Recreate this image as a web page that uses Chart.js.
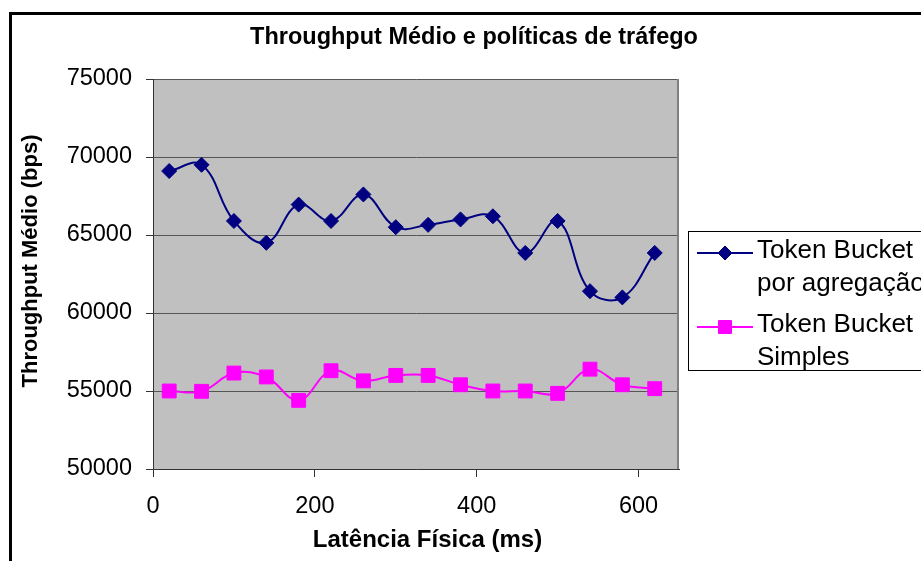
<!DOCTYPE html>
<html><head><meta charset="utf-8">
<script src="https://cdn.jsdelivr.net/npm/chart.js@4"></script>
<style>html,body{margin:0;padding:0;background:#fff;} canvas{display:block;}</style>
</head><body>
<canvas id="c" width="921" height="561"></canvas>
<script>
const chartTitle = 'Throughput Médio e políticas de tráfego';
const xAxisTitle = 'Latência Física (ms)';
const yAxisTitle = 'Throughput Médio (bps)';
const latencyMs = [20, 60, 100, 140, 180, 220, 260, 300, 340, 380, 420, 460, 500, 540, 580, 620];
const tokenBucketAgregacao = [69100, 69500, 65900, 64500, 66950, 65900, 67600, 65500, 65650, 66000, 66200, 63850, 65900, 61400, 61000, 63850];
const tokenBucketSimples = [55000, 54980, 56150, 55900, 54400, 56300, 55650, 56000, 56000, 55400, 55000, 55000, 54850, 56400, 55400, 55150];
const seriesNames = [['Token Bucket', 'por agregação'], ['Token Bucket', 'Simples']];
const seriesColors = ['#000080', '#FF00FF'];
const seriesMarkers = ['rectRot', 'rect'];
const xTickValues = [0, 200, 400, 600];
const yTickValues = [50000, 55000, 60000, 65000, 70000, 75000];

const FONT = '"Liberation Sans", Arial, sans-serif';

function toPoints(xs, ys) { return xs.map((x, i) => ({ x: x, y: ys[i] })); }

function drawMarker(ctx, style, x, y, color) {
  ctx.save();
  ctx.fillStyle = color; ctx.strokeStyle = color; ctx.lineWidth = 1;
  ctx.beginPath();
  if (style === 'rectRot') {
    const r = 7;
    ctx.moveTo(x, y - r); ctx.lineTo(x + r, y); ctx.lineTo(x, y + r); ctx.lineTo(x - r, y); ctx.closePath();
  } else {
    const s = 6.5;
    ctx.rect(x - s, y - s, 2 * s, 2 * s);
  }
  ctx.fill(); ctx.stroke();
  ctx.restore();
}

const decor = {
  id: 'decor',
  beforeDraw(chart) {
    const { ctx, chartArea: a } = chart;
    ctx.save();
    ctx.fillStyle = '#ffffff';
    ctx.fillRect(0, 0, chart.width, chart.height);
    ctx.fillStyle = '#C0C0C0';
    ctx.fillRect(a.left, a.top, a.right - a.left, a.bottom - a.top);
    ctx.restore();
  },
  afterDraw(chart) {
    const { ctx, chartArea: a } = chart;
    ctx.save();
    // plot right border
    ctx.strokeStyle = '#808080'; ctx.lineWidth = 2;
    ctx.beginPath(); ctx.moveTo(a.right - 1, a.top); ctx.lineTo(a.right - 1, a.bottom); ctx.stroke();
    // outer border
    ctx.strokeStyle = '#000'; ctx.lineWidth = 3;
    ctx.strokeRect(10.5, 13.5, 1000, 1000);
    // title
    ctx.fillStyle = '#000';
    ctx.textAlign = 'center'; ctx.textBaseline = 'alphabetic';
    ctx.font = 'bold 23.5px ' + FONT;
    ctx.fillText(chartTitle, 474, 44);
    // x axis title
    ctx.font = 'bold 24px ' + FONT;
    ctx.fillText(xAxisTitle, 427.5, 547);
    // y axis title
    ctx.save();
    ctx.translate(37, 261);
    ctx.rotate(-Math.PI / 2);
    ctx.font = 'bold 22px ' + FONT;
    ctx.fillText(yAxisTitle, 0, 0);
    ctx.restore();
    // legend
    ctx.fillStyle = '#fff';
    ctx.fillRect(688, 231, 300, 139);
    ctx.strokeStyle = '#000'; ctx.lineWidth = 1;
    ctx.strokeRect(688.5, 231.5, 300, 139);
    const entryY = [253, 327];
    chart.data.datasets.forEach((ds, i) => {
      const y = entryY[i];
      ctx.strokeStyle = seriesColors[i]; ctx.lineWidth = 2;
      ctx.beginPath(); ctx.moveTo(697, y); ctx.lineTo(753, y); ctx.stroke();
      drawMarker(ctx, seriesMarkers[i], 725, y, seriesColors[i]);
      ctx.fillStyle = '#000';
      ctx.textAlign = 'left'; ctx.textBaseline = 'alphabetic';
      ctx.font = '26px ' + FONT;
      seriesNames[i].forEach((line, j) => ctx.fillText(line, 757, y + 5 + j * 33));
    });
    ctx.restore();
  }
};

new Chart(document.getElementById('c'), {
  type: 'line',
  data: {
    datasets: [0, 1].map(i => ({
      label: seriesNames[i].join(' '),
      data: toPoints(latencyMs, i === 0 ? tokenBucketAgregacao : tokenBucketSimples),
      borderColor: seriesColors[i],
      backgroundColor: seriesColors[i],
      borderWidth: 2,
      pointStyle: seriesMarkers[i],
      pointRadius: i === 0 ? 7.5 : 9.8,
      pointBorderWidth: 1,
      pointBackgroundColor: seriesColors[i],
      pointBorderColor: seriesColors[i],
      tension: 0.4,
      fill: false
    }))
  },
  plugins: [decor],
  options: {
    responsive: false,
    animation: false,
    layout: { padding: { left: 10, top: 79, right: 242, bottom: 0 } },
    plugins: { legend: { display: false }, title: { display: false }, tooltip: { enabled: false } },
    scales: {
      x: {
        type: 'linear', min: 0, max: 650,
        afterBuildTicks: s => { s.ticks = xTickValues.map(v => ({ value: v })); },
        afterFit: s => { s.height = 92; },
        grid: { drawOnChartArea: false, color: '#333', tickLength: 8, tickColor: '#333' },
        border: { display: true, color: '#333', width: 1 },
        ticks: { color: '#000', font: { family: FONT, size: 23.5 }, padding: 15, maxRotation: 0, callback: v => String(v) }
      },
      y: {
        min: 50000, max: 75000,
        afterBuildTicks: s => { s.ticks = yTickValues.map(v => ({ value: v })); },
        afterFit: s => { s.width = 143; },
        grid: { color: '#555', lineWidth: 1, tickLength: 7, tickColor: '#333' },
        border: { display: true, color: '#333', width: 1 },
        ticks: { color: '#000', font: { family: FONT, size: 23.5 }, padding: 14, callback: v => String(v) }
      }
    }
  }
});
</script>
</body></html>
